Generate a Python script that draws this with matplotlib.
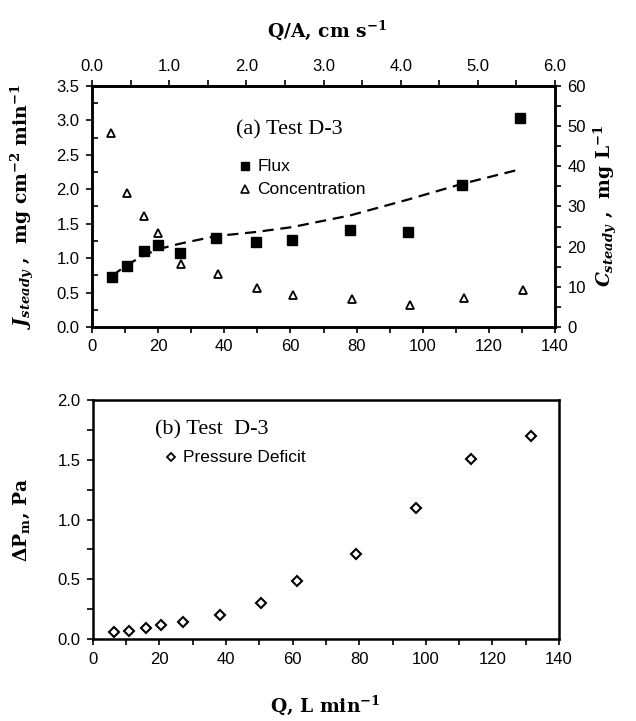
import matplotlib
matplotlib.use("Agg")
import matplotlib.pyplot as plt
from matplotlib.ticker import MultipleLocator, FormatStrFormatter

# flow rate, L/min
q_flux = [6.0, 10.5, 15.7, 20.0, 26.6, 37.5, 49.6, 60.4, 78.0, 95.5, 112.0, 129.4]
flux = [0.73, 0.89, 1.11, 1.19, 1.07, 1.29, 1.24, 1.27, 1.41, 1.38, 2.06, 3.04]
flux_trend = [0.74, 0.90, 1.04, 1.13, 1.21, 1.32, 1.38, 1.45, 1.62, 1.85, 2.08, 2.29]

q_conc = [5.8, 10.5, 15.7, 20.0, 26.8, 38.2, 49.8, 60.9, 78.5, 96.2, 112.6, 130.4]
conc = [48.3, 33.3, 27.7, 23.3, 15.6, 13.1, 9.7, 8.0, 7.0, 5.5, 7.3, 9.1]

q_dp = [6.2, 10.9, 16.1, 20.5, 27.2, 38.2, 50.4, 61.4, 79.0, 96.9, 113.5, 131.6]
dp = [0.062, 0.070, 0.090, 0.118, 0.146, 0.20, 0.30, 0.485, 0.713, 1.093, 1.507, 1.70]

qa_ticks = [0, 1, 2, 3, 4, 5, 6]

sans = ["Liberation Sans Narrow", "Liberation Sans", "DejaVu Sans"]
serif = ["Liberation Serif", "DejaVu Serif"]
lab_serif = ["DejaVu Serif"]
plt.rcParams["font.family"] = sans
plt.rcParams["mathtext.fontset"] = "custom"
plt.rcParams["mathtext.rm"] = "DejaVu Serif:bold"
plt.rcParams["mathtext.bf"] = "DejaVu Serif:bold"
plt.rcParams["mathtext.it"] = "DejaVu Serif:bold:italic"

fig = plt.figure(figsize=(6.36, 7.21), dpi=100)
ax1 = fig.add_axes([0.1447, 0.5465, 0.728, 0.3342])
ax2 = fig.add_axes([0.146, 0.1137, 0.733, 0.3315])


def style_axis(ax):
    for s in ax.spines.values():
        s.set_linewidth(1.8)
    ax.tick_params(which="both", direction="out", width=1.2, labelsize=12, pad=5)
    ax.tick_params(which="major", length=4)
    ax.tick_params(which="minor", length=4)


# ---- (a) flux and concentration ----
ax1.plot(q_flux, flux, "s", color="black", ms=7, zorder=3)
ax1.plot(q_flux, flux_trend, "--", color="black", lw=1.6, dashes=(5, 3))
ax1.set_xlim(0, 140)
ax1.set_ylim(0, 3.5)
ax1.xaxis.set_major_locator(MultipleLocator(20))
ax1.xaxis.set_minor_locator(MultipleLocator(10))
ax1.yaxis.set_major_locator(MultipleLocator(0.5))
ax1.yaxis.set_minor_locator(MultipleLocator(0.25))
ax1.yaxis.set_major_formatter(FormatStrFormatter("%.1f"))
style_axis(ax1)
ax1.tick_params(axis="y", which="minor", direction="in")

ax1r = ax1.twinx()
ax1r.plot(q_conc, conc, "^", mfc="white", mec="black", mew=1.3, ms=6)
ax1r.set_ylim(0, 60)
ax1r.yaxis.set_major_locator(MultipleLocator(10))
ax1r.yaxis.set_minor_locator(MultipleLocator(5))
style_axis(ax1r)

top = ax1.secondary_xaxis("top", functions=(lambda q: q * 6 / 140, lambda v: v * 140 / 6))
top.set_xticks(qa_ticks)
top.set_xticklabels(["%.1f" % v for v in qa_ticks])
top.xaxis.set_minor_locator(MultipleLocator(0.5))
top.tick_params(which="both", direction="out", width=1.2, length=4, labelsize=12, pad=5)
top.spines["top"].set_linewidth(1.8)

ax1.text(0.31, 0.80, "(a) Test D-3", transform=ax1.transAxes, family=serif, fontsize=16)
ax1.plot([0.331], [0.667], "s", color="black", ms=6, transform=ax1.transAxes, clip_on=False)
ax1.text(0.357, 0.667, "Flux", transform=ax1.transAxes, fontsize=12.5, va="center")
ax1.plot([0.331], [0.571], "^", mfc="white", mec="black", mew=1.2, ms=5.5,
         transform=ax1.transAxes, clip_on=False)
ax1.text(0.357, 0.571, "Concentration", transform=ax1.transAxes, fontsize=12.5, va="center")

fig.text(0.515, 0.958, r"Q/A, cm s$^{\mathbf{-1}}$", ha="center", va="center",
         family=lab_serif, fontweight="bold", fontsize=13.5)
fig.text(0.035, 0.714, r"$J_{steady}$ ,  mg cm$^{\mathbf{-2}}$ min$^{\mathbf{-1}}$",
         rotation=90, ha="center", va="center", family=lab_serif, fontweight="bold", fontsize=13.5)
fig.text(0.952, 0.714, r"$C_{steady}$ ,  mg L$^{\mathbf{-1}}$",
         rotation=90, ha="center", va="center", family=lab_serif, fontweight="bold", fontsize=13.5)

# ---- (b) pressure deficit ----
ax2.plot(q_dp, dp, "D", mfc="white", mec="black", mew=1.5, ms=5.5)
ax2.set_xlim(0, 140)
ax2.set_ylim(0, 2.0)
ax2.xaxis.set_major_locator(MultipleLocator(20))
ax2.xaxis.set_minor_locator(MultipleLocator(10))
ax2.yaxis.set_major_locator(MultipleLocator(0.5))
ax2.yaxis.set_minor_locator(MultipleLocator(0.25))
ax2.yaxis.set_major_formatter(FormatStrFormatter("%.1f"))
style_axis(ax2)

ax2.text(0.133, 0.855, "(b) Test  D-3", transform=ax2.transAxes, family=serif, fontsize=16)
ax2.plot([0.167], [0.76], "D", mfc="white", mec="black", mew=1.3, ms=4.5,
         transform=ax2.transAxes, clip_on=False)
ax2.text(0.193, 0.76, "Pressure Deficit", transform=ax2.transAxes, fontsize=12.5, va="center")

fig.text(0.035, 0.279, r"$\mathrm{\Delta}$P$_{\mathrm{m}}$, Pa", rotation=90, ha="center",
         va="center", family=lab_serif, fontweight="bold", fontsize=13.5)
fig.text(0.512, 0.022, r"Q, L min$^{\mathbf{-1}}$", ha="center", va="center",
         family=lab_serif, fontweight="bold", fontsize=13.5)

fig.savefig("out.png", dpi=100)
